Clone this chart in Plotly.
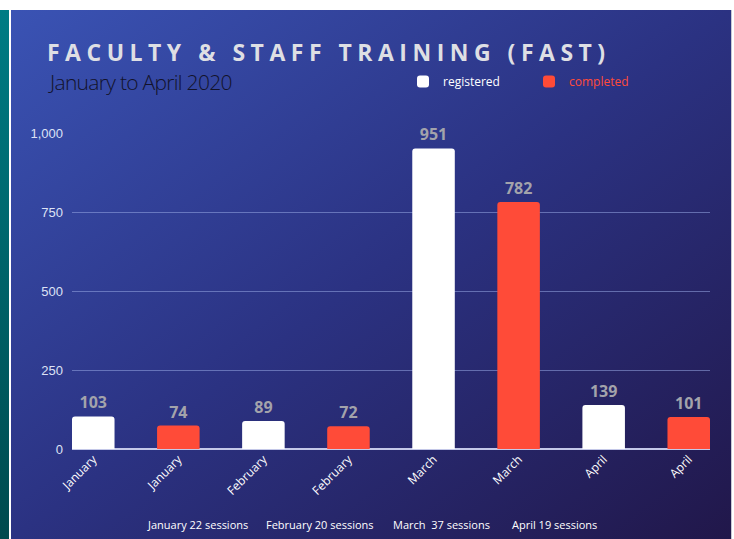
import base64
import plotly.graph_objects as go

# data
months = ["January", "February", "March", "April"]
registered = [103, 89, 951, 139]
completed = [74, 72, 782, 101]
session_notes = ["January 22 sessions", "February 20 sessions",
                 "March&nbsp; 37 sessions", "April 19 sessions"]
y_ticks = [0, 250, 500, 750, 1000]

W, H = 734, 539
L, R, T, B = 72, 24, 133, 90
pw, ph = W - L - R, H - T - B

# background: white frame, teal strip on the left, blue diagonal gradient
svg = f'''<svg xmlns="http://www.w3.org/2000/svg" width="{W}" height="{H}" viewBox="0 0 {W} {H}" preserveAspectRatio="none">
<defs>
<linearGradient id="bg" x1="0" y1="0" x2="1" y2="1">
<stop offset="0" stop-color="#3a53b4"/>
<stop offset="0.5" stop-color="#2b3282"/>
<stop offset="1" stop-color="#21174a"/>
</linearGradient>
<linearGradient id="tl" x1="0" y1="0" x2="0" y2="1">
<stop offset="0" stop-color="#007c84"/>
<stop offset="1" stop-color="#004a4e"/>
</linearGradient>
</defs>
<rect width="{W}" height="{H}" fill="#ffffff"/>
<rect x="0" y="10" width="9" height="{H - 10}" fill="url(#tl)"/>
<rect x="11" y="10" width="720" height="{H - 10}" fill="url(#bg)"/>
<rect x="731" y="10" width="1" height="{H - 10}" fill="#c8c8d4"/>
</svg>'''
bg_src = "data:image/svg+xml;base64," + base64.b64encode(svg.encode()).decode()


def px(x):
    return (x - L) / pw


def py(y):
    return (H - B - y) / ph


x_reg = [2 * i for i in range(len(months))]
x_comp = [2 * i + 1 for i in range(len(months))]
tick_text = []
for m in months:
    tick_text += [m, m]

fig = go.Figure()
fig.add_trace(go.Bar(
    x=x_reg, y=registered, name="registered", width=0.5,
    marker=dict(color="#ffffff", cornerradius=3, line=dict(width=0)),
    text=registered, textposition="outside", cliponaxis=False, constraintext="none",
    textfont=dict(color="#a3a3ab", size=16, family="Open Sans", weight="bold"),
))
fig.add_trace(go.Bar(
    x=x_comp, y=completed, name='<span style="color:#ff4b3a">completed</span>', width=0.5,
    marker=dict(color="#ff4b38", cornerradius=3, line=dict(width=0)),
    text=completed, textposition="outside", cliponaxis=False, constraintext="none",
    textfont=dict(color="#a3a3ab", size=16, family="Open Sans", weight="bold"),
))

fig.update_layout(
    width=W, height=H,
    margin=dict(l=L, r=R, t=T, b=B, pad=0),
    paper_bgcolor="#ffffff",
    plot_bgcolor="rgba(0,0,0,0)",
    barmode="overlay",
    showlegend=True,
    legend=dict(orientation="h", xref="container", yref="container",
                x=403 / W, y=1 - 67 / H, xanchor="left", yanchor="top",
                font=dict(color="#ffffff", size=12, family="Open Sans"),
                bgcolor="rgba(0,0,0,0)", entrywidth=81, entrywidthmode="pixels",
                traceorder="normal"),
    images=[dict(source=bg_src, xref="paper", yref="paper", x=px(0), y=py(0),
                 sizex=W / pw, sizey=H / ph, xanchor="left", yanchor="top",
                 sizing="stretch", layer="below")],
    xaxis=dict(range=[-0.25, 7.25], tickvals=list(range(8)), ticktext=tick_text,
               tickangle=-45, showgrid=False, zeroline=False, showline=False,
               tickfont=dict(color="#ffffff", size=12, family="Open Sans")),
    yaxis=dict(range=[0, 1000], tickvals=y_ticks, tickformat=",", showgrid=True,
               gridcolor="rgba(150,165,225,0.55)", gridwidth=1,
               zeroline=True, zerolinecolor="#c4c8e8", zerolinewidth=1.5,
               ticklabelstandoff=8,
               tickfont=dict(color="#dde2f5", size=13, family="Liberation Sans")),
)

fig.add_annotation(
    text='<span style="letter-spacing:5.5px">FACULTY &amp; STAFF TRAINING (FAST)</span>',
    xref="paper", yref="paper", x=px(45), y=py(52), xanchor="left", yanchor="middle",
    showarrow=False, font=dict(color="#dedfe4", size=23, family="Open Sans", weight="bold"))
fig.add_annotation(
    text='<span style="letter-spacing:-0.7px">January to April 2020</span>',
    xref="paper", yref="paper", x=px(46), y=py(82), xanchor="left", yanchor="middle",
    showarrow=False, font=dict(color="#12122a", size=21, family="Open Sans", weight=300))

note_x = [197, 320, 441, 554]
for t, xc in zip(session_notes, note_x):
    fig.add_annotation(text=t, xref="paper", yref="paper", x=px(xc), y=py(524),
                       xanchor="center", yanchor="middle", showarrow=False,
                       font=dict(color="#ffffff", size=11, family="Open Sans"))

# page margin off so the figure sits at the window's top-left corner
fig.write_html("out.html", config={"displayModeBar": False},
               post_script="document.body.style.margin='0';")
